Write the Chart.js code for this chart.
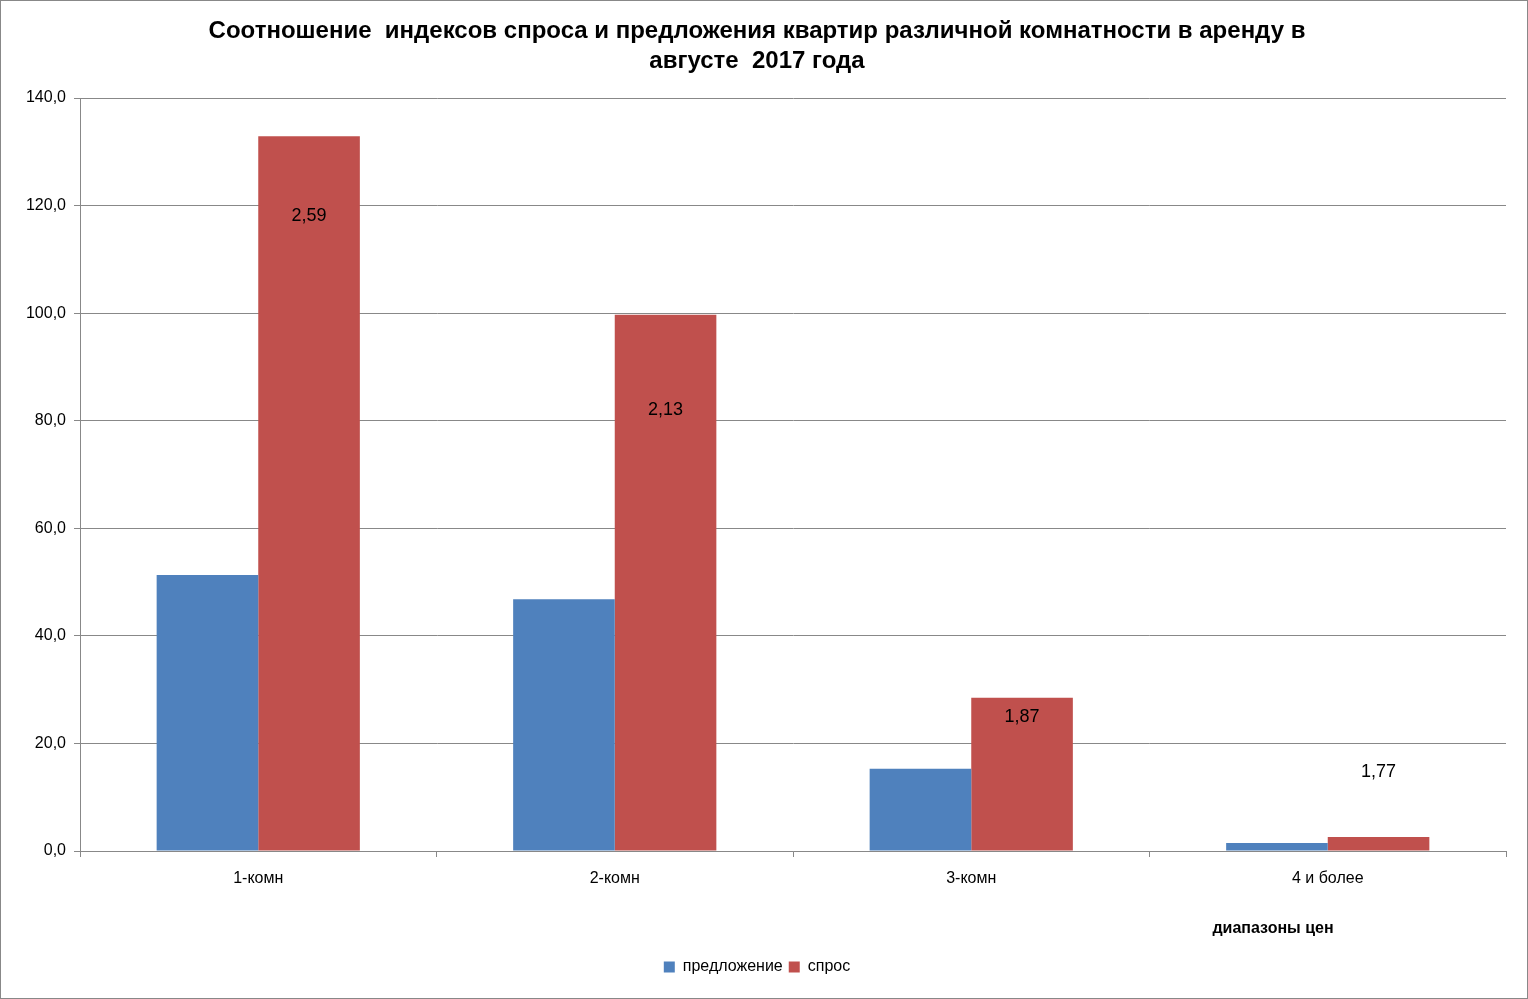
<!DOCTYPE html>
<html>
<head>
<meta charset="utf-8">
<script src="https://cdn.jsdelivr.net/npm/chart.js@4"></script>
<style>
  html, body { margin: 0; padding: 0; background: #fff; }
  #wrap { width: 1528px; height: 999px; }
</style>
</head>
<body>
<div id="wrap"><canvas id="myChart"></canvas></div>
<script>
// data
const categories = ["1-комн", "2-комн", "3-комн", "4 и более"];
const supply = [51.3, 46.8, 15.3, 1.5];     // предложение
const demand = [132.9, 99.7, 28.5, 2.6];    // спрос
const ratios = ["2,59", "2,13", "1,87", "1,77"];
const ratioLabelAt = [118, 82, 25, 14.7];   // value level where the ratio text sits

const frame = {
    id: 'frame',
    afterDraw(chart) {
        const ctx = chart.ctx;
        ctx.save();
        ctx.strokeStyle = '#888';
        ctx.lineWidth = 1;
        ctx.strokeRect(0.5, 0.5, chart.width - 1, chart.height - 1);

        // ratio labels
        const meta = chart.getDatasetMeta(1);
        const y = chart.scales.y;
        ctx.fillStyle = '#000';
        ctx.font = '18px Arial';
        ctx.textAlign = 'center';
        ctx.textBaseline = 'middle';
        meta.data.forEach(function(bar, i) {
            ctx.fillText(ratios[i], bar.x, y.getPixelForValue(ratioLabelAt[i]));
        });

        // axis title
        ctx.font = 'bold 16px Arial';
        ctx.fillText("диапазоны цен", 1273, 929);
        ctx.restore();
    }
};

new Chart(document.getElementById('myChart'), {
    type: 'bar',
    data: {
        labels: categories,
        datasets: [{
            label: 'предложение',
            data: supply,
            backgroundColor: '#4f81bd'
        }, {
            label: 'спрос',
            data: demand,
            backgroundColor: '#c0504d'
        }]
    },
    options: {
        responsive: true,
        maintainAspectRatio: false,
        animation: false,
        layout: { padding: { left: 8, right: 22, top: 10, bottom: 14 } },
        datasets: { bar: { categoryPercentage: 0.57, barPercentage: 1.0 } },
        scales: {
            x: {
                grid: { offset: true, drawOnChartArea: false, color: '#888', tickLength: 6 },
                border: { color: '#888' },
                ticks: { color: '#000', font: { family: 'Arial', size: 16 }, padding: 12 },
                afterFit(scale) { scale.height = 102; }
            },
            y: {
                min: 0,
                max: 140,
                ticks: {
                    stepSize: 20,
                    color: '#000',
                    font: { family: 'Arial', size: 16 },
                    padding: 8,
                    callback: v => v.toFixed(1).replace('.', ',')
                },
                grid: { color: '#888', tickLength: 6 },
                border: { color: '#888' },
                afterFit(scale) { scale.width = 72; }
            }
        },
        plugins: {
            title: {
                display: true,
                text: ['Соотношение  индексов спроса и предложения квартир различной комнатности в аренду в', 'августе  2017 года'],
                color: '#000',
                font: { family: 'Arial', size: 24, weight: 'bold', lineHeight: 1.25 },
                padding: { top: 6, bottom: 22 }
            },
            legend: {
                position: 'bottom',
                labels: {
                    color: '#000',
                    font: { family: 'Arial', size: 16 },
                    boxWidth: 11,
                    boxHeight: 11,
                    padding: 6
                }
            },
            tooltip: { enabled: false }
        }
    },
    plugins: [frame]
});
</script>
</body>
</html>
